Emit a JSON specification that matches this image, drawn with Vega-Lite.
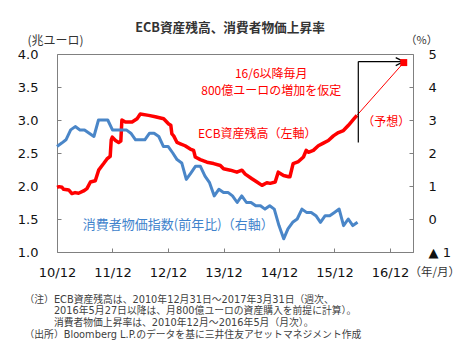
{
  "$schema": "https://vega.github.io/schema/vega-lite/v6.json",
  "background": "white",
  "autosize": {"type": "none"},
  "padding": {"left": 57, "top": 54, "right": 58, "bottom": 101},
  "width": 356,
  "height": 198,
  "config": {
    "view": {"stroke": "#808080", "strokeWidth": 1},
    "font": "Noto Sans CJK JP",
    "axis": {
      "domain": false, "grid": false,
      "labelFont": "DejaVu Sans", "labelFontSize": 13, "labelColor": "#111111",
      "tickColor": "#808080", "tickSize": -4,
      "titleFont": "Noto Sans CJK JP", "titleFontWeight": "normal", "titleFontSize": 12, "titleColor": "#333333"
    }
  },
  "title": {
    "text": "ECB資産残高、消費者物価上昇率",
    "anchor": "middle", "dx": -5, "offset": -1,
    "font": "Noto Sans CJK JP", "fontSize": 12.7, "fontWeight": "bold", "color": "#333333"
  },
  "datasets": {
    "ecb": [
      {"date": "2010-12-31", "v": 1.98}, {"date": "2011-01-14", "v": 1.99}, {"date": "2011-02-02", "v": 1.98},
      {"date": "2011-02-13", "v": 1.95}, {"date": "2011-03-18", "v": 1.94}, {"date": "2011-04-08", "v": 1.885},
      {"date": "2011-04-29", "v": 1.9}, {"date": "2011-05-22", "v": 1.89}, {"date": "2011-06-24", "v": 1.925},
      {"date": "2011-07-16", "v": 1.96}, {"date": "2011-08-08", "v": 2.06}, {"date": "2011-09-09", "v": 2.08},
      {"date": "2011-10-01", "v": 2.24}, {"date": "2011-11-03", "v": 2.34}, {"date": "2011-11-25", "v": 2.41},
      {"date": "2011-12-16", "v": 2.45}, {"date": "2011-12-23", "v": 2.7}, {"date": "2011-12-30", "v": 2.74},
      {"date": "2012-01-20", "v": 2.69}, {"date": "2012-02-10", "v": 2.66}, {"date": "2012-02-24", "v": 2.68},
      {"date": "2012-03-02", "v": 3.0}, {"date": "2012-03-25", "v": 2.97}, {"date": "2012-05-08", "v": 2.97},
      {"date": "2012-06-10", "v": 3.02}, {"date": "2012-07-01", "v": 3.09}, {"date": "2012-08-25", "v": 3.07},
      {"date": "2012-10-08", "v": 3.05}, {"date": "2012-12-02", "v": 3.02}, {"date": "2013-01-04", "v": 2.94},
      {"date": "2013-01-18", "v": 2.92}, {"date": "2013-01-25", "v": 2.79}, {"date": "2013-02-06", "v": 2.76},
      {"date": "2013-02-28", "v": 2.66}, {"date": "2013-03-22", "v": 2.64}, {"date": "2013-04-22", "v": 2.61},
      {"date": "2013-05-26", "v": 2.56}, {"date": "2013-06-17", "v": 2.54}, {"date": "2013-06-28", "v": 2.44},
      {"date": "2013-07-31", "v": 2.4}, {"date": "2013-09-13", "v": 2.36}, {"date": "2013-10-27", "v": 2.34},
      {"date": "2013-12-10", "v": 2.31}, {"date": "2013-12-31", "v": 2.26}, {"date": "2014-02-14", "v": 2.24},
      {"date": "2014-03-29", "v": 2.21}, {"date": "2014-05-01", "v": 2.24}, {"date": "2014-05-23", "v": 2.18},
      {"date": "2014-07-06", "v": 2.11}, {"date": "2014-08-08", "v": 2.06}, {"date": "2014-09-10", "v": 2.01},
      {"date": "2014-10-12", "v": 2.05}, {"date": "2014-11-03", "v": 2.04}, {"date": "2014-12-06", "v": 2.06},
      {"date": "2014-12-26", "v": 2.21}, {"date": "2015-01-30", "v": 2.16}, {"date": "2015-03-04", "v": 2.14},
      {"date": "2015-03-13", "v": 2.14}, {"date": "2015-04-03", "v": 2.34}, {"date": "2015-05-08", "v": 2.37},
      {"date": "2015-06-10", "v": 2.44}, {"date": "2015-06-28", "v": 2.54}, {"date": "2015-07-12", "v": 2.51},
      {"date": "2015-08-14", "v": 2.54}, {"date": "2015-09-16", "v": 2.61}, {"date": "2015-10-19", "v": 2.65},
      {"date": "2015-11-21", "v": 2.69}, {"date": "2015-12-24", "v": 2.76}, {"date": "2016-01-26", "v": 2.81},
      {"date": "2016-02-28", "v": 2.84}, {"date": "2016-04-01", "v": 2.92}, {"date": "2016-05-04", "v": 3.01},
      {"date": "2016-05-27", "v": 3.07}
    ],
    "forecast": [
      {"date": "2016-05-27", "v": 3.07}, {"date": "2017-03-31", "v": 3.87}
    ],
    "cpi": [
      {"date": "2010-12-31", "r": 2.2}, {"date": "2011-01-31", "r": 2.3}, {"date": "2011-02-28", "r": 2.4},
      {"date": "2011-03-31", "r": 2.7}, {"date": "2011-04-30", "r": 2.8}, {"date": "2011-05-31", "r": 2.7},
      {"date": "2011-06-30", "r": 2.7}, {"date": "2011-07-31", "r": 2.6}, {"date": "2011-08-31", "r": 2.5},
      {"date": "2011-09-30", "r": 3.0}, {"date": "2011-10-31", "r": 3.0}, {"date": "2011-11-30", "r": 3.0},
      {"date": "2011-12-31", "r": 2.7}, {"date": "2012-01-31", "r": 2.7}, {"date": "2012-02-29", "r": 2.7},
      {"date": "2012-03-31", "r": 2.7}, {"date": "2012-04-30", "r": 2.6}, {"date": "2012-05-31", "r": 2.4},
      {"date": "2012-06-30", "r": 2.4}, {"date": "2012-07-31", "r": 2.4}, {"date": "2012-08-31", "r": 2.6},
      {"date": "2012-09-30", "r": 2.6}, {"date": "2012-10-31", "r": 2.5}, {"date": "2012-11-30", "r": 2.2},
      {"date": "2012-12-31", "r": 2.2}, {"date": "2013-01-31", "r": 2.0}, {"date": "2013-02-28", "r": 1.8},
      {"date": "2013-03-31", "r": 1.7}, {"date": "2013-04-30", "r": 1.2}, {"date": "2013-05-31", "r": 1.4},
      {"date": "2013-06-30", "r": 1.6}, {"date": "2013-07-31", "r": 1.6}, {"date": "2013-08-31", "r": 1.3},
      {"date": "2013-09-30", "r": 1.1}, {"date": "2013-10-31", "r": 0.7}, {"date": "2013-11-30", "r": 0.9},
      {"date": "2013-12-31", "r": 0.8}, {"date": "2014-01-31", "r": 0.8}, {"date": "2014-02-28", "r": 0.7},
      {"date": "2014-03-31", "r": 0.5}, {"date": "2014-04-30", "r": 0.7}, {"date": "2014-05-31", "r": 0.5},
      {"date": "2014-06-30", "r": 0.5}, {"date": "2014-07-31", "r": 0.4}, {"date": "2014-08-31", "r": 0.4},
      {"date": "2014-09-30", "r": 0.3}, {"date": "2014-10-31", "r": 0.4}, {"date": "2014-11-30", "r": 0.3},
      {"date": "2014-12-31", "r": -0.2}, {"date": "2015-01-31", "r": -0.6}, {"date": "2015-02-28", "r": -0.3},
      {"date": "2015-03-31", "r": -0.1}, {"date": "2015-04-30", "r": 0.0}, {"date": "2015-05-31", "r": 0.3},
      {"date": "2015-06-30", "r": 0.2}, {"date": "2015-07-31", "r": 0.2}, {"date": "2015-08-31", "r": 0.1},
      {"date": "2015-09-30", "r": -0.1}, {"date": "2015-10-31", "r": 0.1}, {"date": "2015-11-30", "r": 0.1},
      {"date": "2015-12-31", "r": 0.2}, {"date": "2016-01-31", "r": 0.3}, {"date": "2016-02-29", "r": -0.2},
      {"date": "2016-03-31", "r": 0.0}, {"date": "2016-04-30", "r": -0.2}, {"date": "2016-05-31", "r": -0.1}
    ],
    "redText": [
      {"date": "2014-11-10", "v": 3.69, "label": "16/6以降毎月"},
      {"date": "2014-11-10", "v": 3.44, "label": "800億ユーロの増加を仮定"},
      {"date": "2014-08-10", "v": 2.795, "label": "ECB資産残高（左軸）"},
      {"date": "2016-12-06", "v": 2.965, "label": "（予想）"}
    ],
    "blueText": [
      {"date": "2013-03-08", "v": 1.41, "label": "消費者物価指数(前年比)（右軸）"}
    ]
  },
  "resolve": {"scale": {"y": "independent"}},
  "layer": [
    {
      "data": {"name": "ecb"},
      "mark": {"type": "line", "color": "#ff0000", "strokeWidth": 3.5, "strokeJoin": "round"},
      "encoding": {
        "x": {
          "field": "date", "type": "temporal",
          "scale": {"domain": [{"year": 2010, "month": 12, "date": 31}, {"year": 2017, "month": 5, "date": 31}], "nice": false},
          "axis": {
            "values": [
              {"year": 2010, "month": 12, "date": 31}, {"year": 2011, "month": 12, "date": 31},
              {"year": 2012, "month": 12, "date": 31}, {"year": 2013, "month": 12, "date": 31},
              {"year": 2014, "month": 12, "date": 31}, {"year": 2015, "month": 12, "date": 31},
              {"year": 2016, "month": 12, "date": 31}, {"year": 2017, "month": 5, "date": 31}
            ],
            "labelExpr": "datum.value > datetime(2017, 3, 1) ? '（年/月）' : timeFormat(datum.value, '%y/%m')",
            "labelAlign": {"condition": {"test": "datum.value > datetime(2017, 3, 1)", "value": "left"}, "value": "center"},
            "labelFont": {"condition": {"test": "datum.value > datetime(2017, 3, 1)", "value": "Noto Sans CJK JP"}, "value": "DejaVu Sans"},
            "labelFontSize": {"condition": {"test": "datum.value > datetime(2017, 3, 1)", "value": 11.5}, "value": 13},
            "labelColor": {"condition": {"test": "datum.value > datetime(2017, 3, 1)", "value": "#333333"}, "value": "#111111"},
            "labelOffset": {"condition": {"test": "datum.value > datetime(2017, 3, 1)", "value": -4}, "value": 0},
            "labelPadding": 18, "labelFlush": false, "labelOverlap": false, "labelBound": false,
            "title": [
              "（注）ECB資産残高は、2010年12月31日～2017年3月31日（週次、",
              "\u200b　　　2016年5月27日以降は、月800億ユーロの資産購入を前提に計算）。",
              "\u200b　　　消費者物価上昇率は、2010年12月～2016年5月（月次）。",
              "（出所）Bloomberg L.P.のデータを基に三井住友アセットマネジメント作成"
            ],
            "titleFont": "'DejaVu Sans', 'Noto Sans CJK JP', sans-serif",
            "titleFontSize": 9.8, "titleColor": "#404040", "titleLineHeight": 11.8,
            "titleAnchor": "start", "titleAlign": "left", "titleBaseline": "top",
            "titleX": -33, "titleY": 42
          }
        },
        "y": {
          "field": "v", "type": "quantitative",
          "scale": {"domain": [1, 4], "nice": false, "zero": false},
          "axis": {
            "orient": "left", "values": [1, 1.5, 2, 2.5, 3, 3.5, 4], "format": ".1f",
            "labelPadding": 23,
            "title": "(兆ユーロ)", "titleAngle": 0, "titleAlign": "left", "titleBaseline": "middle",
            "titleX": -30, "titleY": -14
          }
        }
      }
    },
    {
      "data": {"name": "forecast"},
      "mark": {"type": "line", "color": "#ff0000", "strokeWidth": 1},
      "encoding": {
        "x": {"field": "date", "type": "temporal"},
        "y": {"field": "v", "type": "quantitative", "scale": {"domain": [1, 4], "nice": false, "zero": false}, "axis": null}
      }
    },
    {
      "data": {"values": [{"date": "2016-06-05", "lo": 2.66, "hi": 3.885}]},
      "mark": {"type": "rule", "color": "#000000", "strokeWidth": 1.2},
      "encoding": {
        "x": {"field": "date", "type": "temporal"},
        "y": {"field": "lo", "type": "quantitative", "scale": {"domain": [1, 4], "nice": false, "zero": false}, "axis": null},
        "y2": {"field": "hi"}
      }
    },
    {
      "data": {"values": [{"date": "2016-06-05", "end": "2017-03-31", "v": 3.885}]},
      "mark": {"type": "rule", "color": "#000000", "strokeWidth": 1.2},
      "encoding": {
        "x": {"field": "date", "type": "temporal"},
        "x2": {"field": "end"},
        "y": {"field": "v", "type": "quantitative", "scale": {"domain": [1, 4], "nice": false, "zero": false}, "axis": null}
      }
    },
    {
      "data": {"values": [{"date": "2017-03-31", "v": 3.885}]},
      "mark": {"type": "point", "shape": "M-2,-1L0,0L-2,1", "filled": false, "stroke": "#000000", "strokeWidth": 1.2, "size": 64, "opacity": 1},
      "encoding": {
        "x": {"field": "date", "type": "temporal"},
        "y": {"field": "v", "type": "quantitative", "scale": {"domain": [1, 4], "nice": false, "zero": false}, "axis": null}
      }
    },
    {
      "data": {"values": [{"date": "2017-03-31", "v": 3.87}]},
      "mark": {"type": "point", "shape": "square", "filled": true, "color": "#ff0000", "size": 49, "opacity": 1},
      "encoding": {
        "x": {"field": "date", "type": "temporal"},
        "y": {"field": "v", "type": "quantitative", "scale": {"domain": [1, 4], "nice": false, "zero": false}, "axis": null}
      }
    },
    {
      "data": {"name": "redText"},
      "mark": {"type": "text", "color": "#ff0000", "font": "Noto Sans CJK JP", "fontSize": 12, "align": "center", "baseline": "middle"},
      "encoding": {
        "x": {"field": "date", "type": "temporal"},
        "y": {"field": "v", "type": "quantitative", "scale": {"domain": [1, 4], "nice": false, "zero": false}, "axis": null},
        "text": {"field": "label"}
      }
    },
    {
      "data": {"name": "blueText"},
      "mark": {"type": "text", "color": "#3f83cc", "font": "Noto Sans CJK JP", "fontSize": 13, "align": "center", "baseline": "middle"},
      "encoding": {
        "x": {"field": "date", "type": "temporal"},
        "y": {"field": "v", "type": "quantitative", "scale": {"domain": [1, 4], "nice": false, "zero": false}, "axis": null},
        "text": {"field": "label"}
      }
    },
    {
      "data": {"name": "cpi"},
      "mark": {"type": "line", "color": "#4a86c8", "strokeWidth": 3, "strokeJoin": "round"},
      "encoding": {
        "x": {"field": "date", "type": "temporal"},
        "y": {
          "field": "r", "type": "quantitative",
          "scale": {"domain": [-1, 5], "nice": false, "zero": false},
          "axis": {
            "orient": "right", "values": [-1, 0, 1, 2, 3, 4, 5],
            "labelExpr": "datum.value < 0 ? '▲ ' + (-datum.value) : datum.label",
            "labelAlign": "left", "labelPadding": 19,
            "title": "（%）", "titleFontSize": 11, "titleAngle": 0, "titleAlign": "left", "titleBaseline": "middle",
            "titleX": -8, "titleY": -14
          }
        }
      }
    }
  ]
}
